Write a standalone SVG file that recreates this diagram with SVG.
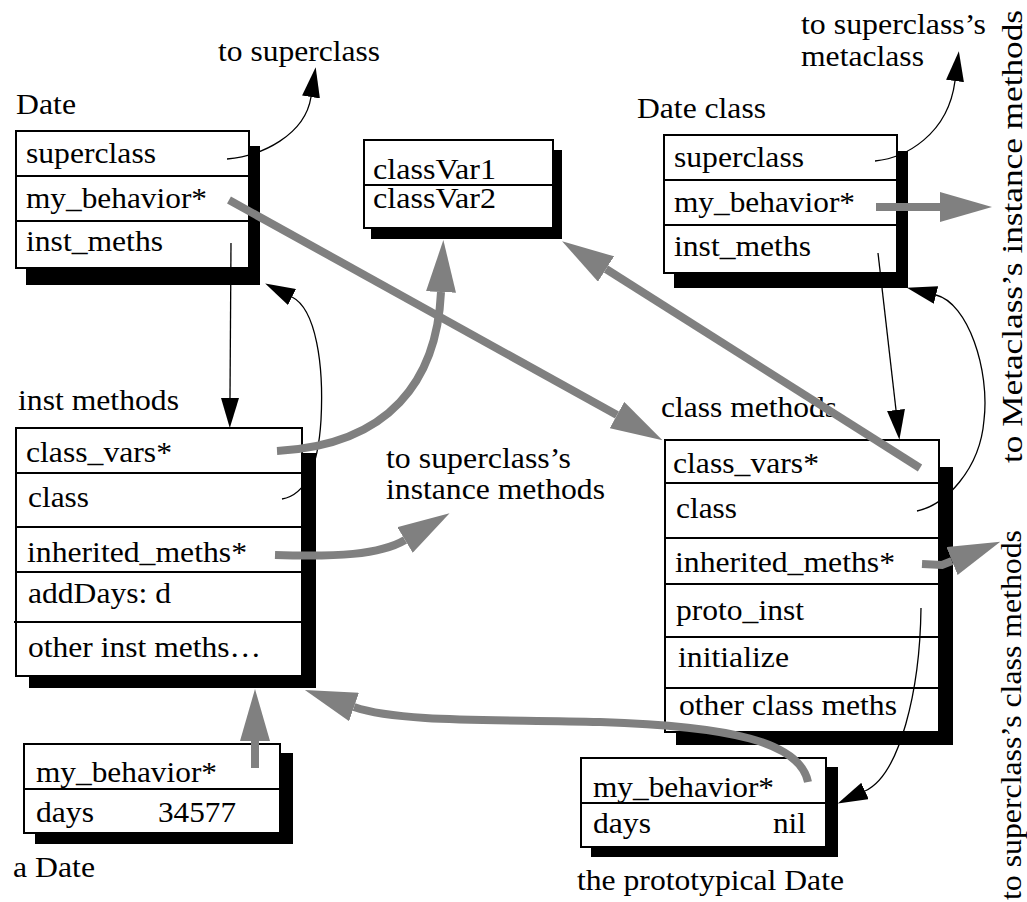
<svg xmlns="http://www.w3.org/2000/svg" width="1027" height="902" viewBox="0 0 1027 902">
  <style>
    .shadow { fill: #000; }
    .box { fill: #fff; stroke: #000; stroke-width: 2; }
    .div { stroke: #000; stroke-width: 2; }
    text { font-family: "Liberation Serif", "Times New Roman", serif; font-size: 29px; fill: #000; }
    .thin { fill: none; stroke: #000; stroke-width: 1.3; marker-end: url(#arrowBlack); }
    .thick { fill: none; stroke: #808080; stroke-width: 8; stroke-linecap: butt; marker-end: url(#arrowGray); }
  </style>
  <defs>
    <marker id="arrowBlack" viewBox="0 0 30 18" refX="0" refY="9" markerWidth="30" markerHeight="18" markerUnits="userSpaceOnUse" orient="auto">
      <path d="M0,0 L30,9 L0,18 z" fill="#000"/>
    </marker>
    <marker id="arrowGray" viewBox="0 0 52 30" refX="0" refY="15" markerWidth="52" markerHeight="30" markerUnits="userSpaceOnUse" orient="auto">
      <path d="M0,0 L52,15 L0,30 z" fill="#808080"/>
    </marker>
  </defs>

  <rect width="1027" height="902" fill="#fff"/>

  <!-- class object: Date -->
  <g id="date">
    <text x="16" y="114" textLength="60" lengthAdjust="spacingAndGlyphs">Date</text>
    <rect class="shadow" x="26" y="146" width="234" height="139"/>
    <rect class="box" x="16" y="131" width="233" height="137"/>
    <line class="div" x1="16" y1="176" x2="249" y2="176"/>
    <line class="div" x1="16" y1="221" x2="249" y2="221"/>
    <text x="26" y="163" textLength="130" lengthAdjust="spacingAndGlyphs">superclass</text>
    <text x="26" y="208" textLength="181" lengthAdjust="spacingAndGlyphs">my_behavior*</text>
    <text x="26" y="251" textLength="137" lengthAdjust="spacingAndGlyphs">inst_meths</text>
  </g>

  <!-- class variables -->
  <g id="class-vars">
    <rect class="shadow" x="371" y="150" width="191" height="89"/>
    <rect class="box" x="364" y="140" width="189" height="88"/>
    <line class="div" x1="364" y1="185" x2="553" y2="185"/>
    <text x="373" y="179" textLength="123" lengthAdjust="spacingAndGlyphs">classVar1</text>
    <text x="373" y="208" textLength="123" lengthAdjust="spacingAndGlyphs">classVar2</text>
  </g>

  <!-- metaclass object: Date class -->
  <g id="date-class">
    <text x="637" y="118" textLength="129" lengthAdjust="spacingAndGlyphs">Date class</text>
    <rect class="shadow" x="674" y="151" width="234" height="137"/>
    <rect class="box" x="664" y="135" width="233" height="138"/>
    <line class="div" x1="664" y1="180" x2="897" y2="180"/>
    <line class="div" x1="664" y1="225" x2="897" y2="225"/>
    <text x="674" y="167" textLength="130" lengthAdjust="spacingAndGlyphs">superclass</text>
    <text x="674" y="212" textLength="181" lengthAdjust="spacingAndGlyphs">my_behavior*</text>
    <text x="674" y="256" textLength="137" lengthAdjust="spacingAndGlyphs">inst_meths</text>
  </g>

  <!-- instance method table -->
  <g id="inst-methods">
    <text x="18" y="410" textLength="161" lengthAdjust="spacingAndGlyphs">inst methods</text>
    <rect class="shadow" x="29" y="453" width="287" height="235"/>
    <rect class="box" x="16" y="428" width="286" height="248"/>
    <line class="div" x1="16" y1="473" x2="302" y2="473"/>
    <line class="div" x1="16" y1="527" x2="302" y2="527"/>
    <line class="div" x1="16" y1="572" x2="302" y2="572"/>
    <line class="div" x1="14" y1="622" x2="302" y2="622"/>
    <text x="26" y="462" textLength="146" lengthAdjust="spacingAndGlyphs">class_vars*</text>
    <text x="28" y="507" textLength="61" lengthAdjust="spacingAndGlyphs">class</text>
    <text x="27" y="562" textLength="220" lengthAdjust="spacingAndGlyphs">inherited_meths*</text>
    <text x="28" y="603" textLength="143" lengthAdjust="spacingAndGlyphs">addDays: d</text>
    <text x="28" y="657" textLength="233" lengthAdjust="spacingAndGlyphs">other inst meths…</text>
  </g>

  <!-- class method table -->
  <g id="class-methods">
    <text x="661" y="417" textLength="176" lengthAdjust="spacingAndGlyphs">class methods</text>
    <rect class="shadow" x="676" y="467" width="277" height="278"/>
    <rect class="box" x="665" y="440" width="274" height="292"/>
    <line class="div" x1="665" y1="483" x2="939" y2="483"/>
    <line class="div" x1="665" y1="538" x2="939" y2="538"/>
    <line class="div" x1="665" y1="584" x2="939" y2="584"/>
    <line class="div" x1="665" y1="637" x2="939" y2="637"/>
    <line class="div" x1="665" y1="688" x2="939" y2="688"/>
    <text x="673" y="473" textLength="146" lengthAdjust="spacingAndGlyphs">class_vars*</text>
    <text x="676" y="518" textLength="61" lengthAdjust="spacingAndGlyphs">class</text>
    <text x="675" y="572" textLength="220" lengthAdjust="spacingAndGlyphs">inherited_meths*</text>
    <text x="676" y="620" textLength="128" lengthAdjust="spacingAndGlyphs">proto_inst</text>
    <text x="678" y="667" textLength="111" lengthAdjust="spacingAndGlyphs">initialize</text>
    <text x="679" y="715" textLength="218" lengthAdjust="spacingAndGlyphs">other class meths</text>
  </g>

  <!-- instance: a Date -->
  <g id="a-date">
    <rect class="shadow" x="35" y="753" width="258" height="91"/>
    <rect class="box" x="24" y="744" width="256" height="89"/>
    <line class="div" x1="24" y1="789" x2="280" y2="789"/>
    <text x="36" y="782" textLength="181" lengthAdjust="spacingAndGlyphs">my_behavior*</text>
    <text x="36" y="822" textLength="58" lengthAdjust="spacingAndGlyphs">days</text>
    <text x="158" y="822" textLength="78" lengthAdjust="spacingAndGlyphs">34577</text>
    <text x="13" y="877" textLength="82" lengthAdjust="spacingAndGlyphs">a Date</text>
  </g>

  <!-- prototype instance -->
  <g id="proto-date">
    <rect class="shadow" x="591" y="767" width="247" height="90"/>
    <rect class="box" x="581" y="758" width="245" height="89"/>
    <line class="div" x1="581" y1="803" x2="826" y2="803"/>
    <text x="593" y="797" textLength="181" lengthAdjust="spacingAndGlyphs">my_behavior*</text>
    <text x="593" y="833" textLength="58" lengthAdjust="spacingAndGlyphs">days</text>
    <text x="773" y="833" textLength="33" lengthAdjust="spacingAndGlyphs">nil</text>
    <text x="577" y="890" textLength="267" lengthAdjust="spacingAndGlyphs">the prototypical Date</text>
  </g>

  <!-- destinations outside the picture -->
  <g id="labels">
    <text x="218" y="61" textLength="162" lengthAdjust="spacingAndGlyphs">to superclass</text>
    <text x="801" y="34" textLength="185" lengthAdjust="spacingAndGlyphs">to superclass’s</text>
    <text x="801" y="66" textLength="123" lengthAdjust="spacingAndGlyphs">metaclass</text>
    <text x="386" y="468" textLength="185" lengthAdjust="spacingAndGlyphs">to superclass’s</text>
    <text x="386" y="499" textLength="219" lengthAdjust="spacingAndGlyphs">instance methods</text>
    <text transform="translate(1022,463) rotate(-90)" textLength="453" lengthAdjust="spacingAndGlyphs">to Metaclass’s instance methods</text>
    <text transform="translate(1021,900) rotate(-90)" textLength="370" lengthAdjust="spacingAndGlyphs">to superclass’s class methods</text>
  </g>

  <!-- pointers -->
  <g id="connectors">
    <!-- plain references -->
    <path class="thin" d="M227,159 C262,156 305,135 311,97"/>
    <path class="thin" d="M231,243 L230,398"/>
    <path class="thin" d="M282,499 C305,495 318,470 321,420 C324,365 316,309 292,297"/>
    <path class="thin" d="M875,161 C905,158 948,135 955,81"/>
    <path class="thin" d="M878,253 L896,410"/>
    <path class="thin" d="M917,511 C945,505 980,470 984,420 C990,370 968,303 936,295"/>
    <path class="thin" d="M921,608 C920,690 900,775 865,791"/>
    <!-- behaviour / method-table references -->
    <path class="thick" d="M229,200 L617,415"/>
    <path class="thick" d="M876,207 L940,207"/>
    <path class="thick" d="M920,468 L606,269"/>
    <path class="thick" d="M277,451 C390,445 437,380 441,292"/>
    <path class="thick" d="M275,555 C335,557 380,555 405,540"/>
    <path class="thick" d="M922,564 L942,565 L952,561"/>
    <path class="thick" d="M808,782 C800,742 730,726 600,722 C500,719 400,723 354,707"/>
    <path class="thick" d="M255,768 L255,741"/>
  </g>
</svg>
